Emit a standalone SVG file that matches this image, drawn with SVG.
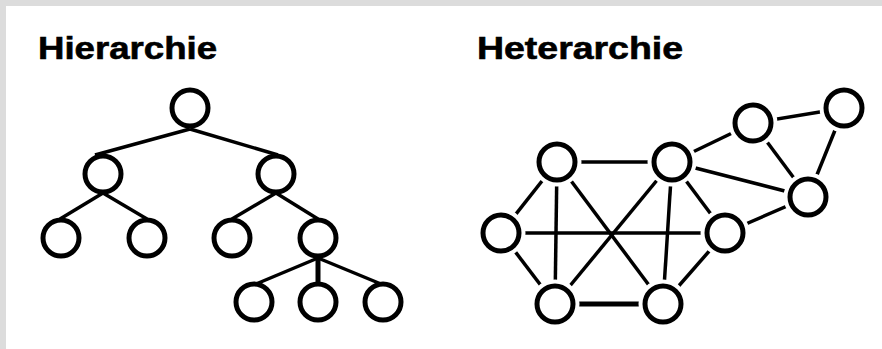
<svg xmlns="http://www.w3.org/2000/svg" width="882" height="349" viewBox="0 0 882 349">
<style>
.title{font-family:"Liberation Sans",Arial,sans-serif;font-weight:bold;font-size:31px;fill:#000;stroke:#000;stroke-width:0.6}
.node{fill:#fff;stroke:#000;stroke-width:5}
.halo{fill:#fff;stroke:none}
.edge{stroke:#000;stroke-width:3.5;fill:none;stroke-linecap:butt}
</style>
<rect x="0" y="0" width="882" height="349" fill="#dcdcdc"/>
<rect x="6" y="6" width="876" height="343" fill="#fff"/>
<text class="title" x="38" y="59" textLength="179" lengthAdjust="spacingAndGlyphs">Hierarchie</text>
<text class="title" x="477" y="59" textLength="206" lengthAdjust="spacingAndGlyphs">Heterarchie</text>
<g id="connectors">
  <line class="edge" x1="190" y1="129" x2="95" y2="155"/>
  <line class="edge" x1="190" y1="129" x2="278" y2="155"/>
  <line class="edge" x1="103" y1="193" x2="60" y2="219"/>
  <line class="edge" x1="103" y1="193" x2="147" y2="219"/>
  <line class="edge" x1="276" y1="193" x2="232" y2="219"/>
  <line class="edge" x1="276" y1="193" x2="318" y2="219"/>
  <line class="edge" x1="318" y1="258" x2="256" y2="284"/>
  <line class="edge" x1="318" y1="258" x2="318" y2="284" style="stroke-width:5"/>
  <line class="edge" x1="318" y1="258" x2="381" y2="284"/>
  <line class="edge" x1="557" y1="162" x2="672" y2="162"/>
  <line class="edge" x1="672" y1="162" x2="753" y2="123"/>
  <line class="edge" x1="753" y1="123" x2="844" y2="108"/>
  <line class="edge" x1="844" y1="108" x2="808" y2="197"/>
  <line class="edge" x1="753" y1="123" x2="808" y2="197"/>
  <line class="edge" x1="672" y1="162" x2="808" y2="197"/>
  <line class="edge" x1="672" y1="162" x2="725" y2="233"/>
  <line class="edge" x1="808" y1="197" x2="725" y2="233"/>
  <line class="edge" x1="557" y1="162" x2="501" y2="233"/>
  <line class="edge" x1="557" y1="162" x2="555" y2="304"/>
  <line class="edge" x1="557" y1="162" x2="663" y2="304"/>
  <line class="edge" x1="672" y1="162" x2="555" y2="304"/>
  <line class="edge" x1="672" y1="162" x2="663" y2="304"/>
  <line class="edge" x1="501" y1="233" x2="725" y2="233"/>
  <line class="edge" x1="501" y1="233" x2="555" y2="304"/>
  <line class="edge" x1="725" y1="233" x2="663" y2="304"/>
  <line class="edge" x1="555" y1="304" x2="663" y2="304" style="stroke-width:5"/>
</g>
<g id="h-root"><circle class="node" cx="190" cy="108" r="18"/></g>
<g id="h-l"><circle class="node" cx="103" cy="174" r="18"/></g>
<g id="h-r"><circle class="node" cx="276" cy="174" r="18"/></g>
<g id="h-ll"><circle class="node" cx="61" cy="238" r="18"/></g>
<g id="h-lr"><circle class="node" cx="147" cy="238" r="18"/></g>
<g id="h-rl"><circle class="node" cx="232" cy="238" r="18"/></g>
<g id="h-rr"><circle class="node" cx="318" cy="238" r="18"/></g>
<g id="h-rr1"><circle class="node" cx="254" cy="302" r="18"/></g>
<g id="h-rr2"><circle class="node" cx="318" cy="302" r="18"/></g>
<g id="h-rr3"><circle class="node" cx="383" cy="302" r="18"/></g>
<g id="n-a"><circle class="halo" cx="557" cy="162" r="24.5"/><circle class="node" cx="557" cy="162" r="18"/></g>
<g id="n-b"><circle class="halo" cx="672" cy="162" r="24.5"/><circle class="node" cx="672" cy="162" r="18"/></g>
<g id="n-c"><circle class="halo" cx="753" cy="123" r="24.5"/><circle class="node" cx="753" cy="123" r="18"/></g>
<g id="n-d"><circle class="halo" cx="844" cy="108" r="24.5"/><circle class="node" cx="844" cy="108" r="18"/></g>
<g id="n-e"><circle class="halo" cx="808" cy="197" r="24.5"/><circle class="node" cx="808" cy="197" r="18"/></g>
<g id="n-f"><circle class="halo" cx="725" cy="233" r="24.5"/><circle class="node" cx="725" cy="233" r="18"/></g>
<g id="n-g"><circle class="halo" cx="501" cy="233" r="24.5"/><circle class="node" cx="501" cy="233" r="18"/></g>
<g id="n-h"><circle class="halo" cx="555" cy="304" r="24.5"/><circle class="node" cx="555" cy="304" r="18"/></g>
<g id="n-i"><circle class="halo" cx="663" cy="304" r="24.5"/><circle class="node" cx="663" cy="304" r="18"/></g>
</svg>
